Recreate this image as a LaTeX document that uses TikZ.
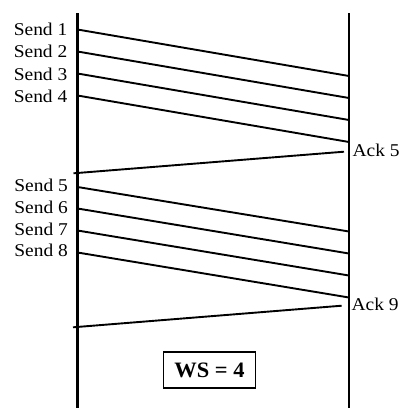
\documentclass[tikz,border=0pt]{standalone}
\usepackage{fontspec}
\setmainfont{Liberation Serif}
\newfontfamily\lblfont[FakeStretch=1.08]{Liberation Serif}
\newfontfamily\boxfont[FakeStretch=1.02]{Liberation Serif}

\begin{document}
\begin{tikzpicture}[x=1pt,y=-1pt,
  lane/.style={line width=2.2pt},
  msg/.style={line width=1.9pt},
  lbl/.style={font=\lblfont\fontsize{18}{18}\selectfont, inner sep=0pt},
  wsbox/.style={draw, line width=1.9pt, inner sep=0pt,
    minimum width=92pt, minimum height=36pt,
    font=\boxfont\bfseries\fontsize{22}{22}\selectfont}]
  \useasboundingbox (0,0) rectangle (399,408);

  % time lines of sender and receiver
  \coordinate (stop) at (77.5,13);
  \coordinate (sbot) at (77.5,408);
  \coordinate (rtop) at (349,13);
  \coordinate (rbot) at (349,408);
  \draw[lane] (stop) -- (sbot);
  \draw[lane] (rtop) -- (rbot);

  % first window
  \coordinate (a1) at (77.5,29.5);  \coordinate (b1) at (349,76);
  \coordinate (a2) at (77.5,51.5);  \coordinate (b2) at (349,98);
  \coordinate (a3) at (77.5,73.5);  \coordinate (b3) at (349,120);
  \coordinate (a4) at (77.5,95.5);  \coordinate (b4) at (349,142);
  \node[lbl, anchor=base east] (s1) at (67.5,35) {Send 1};
  \node[lbl, anchor=base east] (s2) at (67.5,57.5) {Send 2};
  \node[lbl, anchor=base east] (s3) at (67.5,80) {Send 3};
  \node[lbl, anchor=base east] (s4) at (67.5,102) {Send 4};
  \foreach \i in {1,...,4} \draw[msg] (a\i) -- (b\i);

  % acknowledgement of the first window
  \coordinate (k5r) at (344,151.7);
  \coordinate (k5l) at (73.5,173.3);
  \node[lbl, anchor=base west] (ack5) at (352.5,156) {Ack 5};
  \draw[msg] (k5r) -- (k5l);

  % second window
  \coordinate (a5) at (77.5,187);   \coordinate (b5) at (349,231.5);
  \coordinate (a6) at (77.5,208.5); \coordinate (b6) at (349,253.5);
  \coordinate (a7) at (77.5,230.5); \coordinate (b7) at (349,275.5);
  \coordinate (a8) at (77.5,252.5); \coordinate (b8) at (349,297.5);
  \node[lbl, anchor=base east] (s5) at (68,191.7) {Send 5};
  \node[lbl, anchor=base east] (s6) at (68,213.3) {Send 6};
  \node[lbl, anchor=base east] (s7) at (68,235) {Send 7};
  \node[lbl, anchor=base east] (s8) at (68,256.7) {Send 8};
  \foreach \i in {5,...,8} \draw[msg] (a\i) -- (b\i);

  % acknowledgement of the second window
  \coordinate (k9r) at (341.7,305.7);
  \coordinate (k9l) at (73,327.3);
  \node[lbl, anchor=base west] (ack9) at (351.5,310) {Ack 9};
  \draw[msg] (k9r) -- (k9l);

  % window size
  \node[wsbox] (ws) at (209.5,370) {WS = 4};
\end{tikzpicture}
\end{document}
